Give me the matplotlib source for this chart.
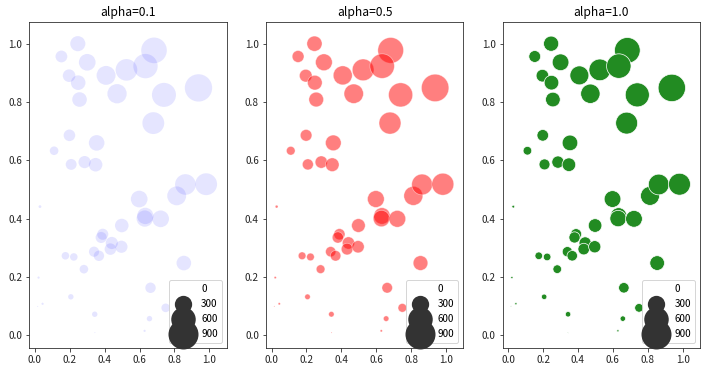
import numpy as np
import matplotlib
matplotlib.use('Agg')
import matplotlib.pyplot as plt
from matplotlib.lines import Line2D

plt.rcParams['font.family'] = ['Noto Sans CJK KR', 'DejaVu Sans']
plt.rcParams['font.size'] = 10

# point positions and size values
x = [0.246, 0.152, 0.300, 0.196, 0.248, 0.256, 0.408, 0.471, 0.525, 0.683,
     0.634, 0.740, 0.938, 0.679, 0.198, 0.110, 0.354, 0.208, 0.285, 0.348,
     0.029, 0.498, 0.598, 0.633, 0.630, 0.721, 0.813, 0.863, 0.982, 0.389,
     0.380, 0.441, 0.433, 0.496, 0.339, 0.367, 0.175, 0.223, 0.281, 0.021,
     0.206, 0.044, 0.016, 0.343, 0.344, 0.854, 0.663, 0.750, 0.657, 0.629]
y = [1.001, 0.957, 0.937, 0.891, 0.867, 0.809, 0.892, 0.829, 0.911, 0.978,
     0.924, 0.825, 0.849, 0.728, 0.686, 0.633, 0.660, 0.586, 0.594, 0.585,
     0.441, 0.376, 0.467, 0.409, 0.400, 0.399, 0.478, 0.517, 0.518, 0.346,
     0.335, 0.316, 0.295, 0.303, 0.286, 0.272, 0.272, 0.268, 0.226, 0.197,
     0.131, 0.107, 0.098, 0.071, 0.008, 0.247, 0.162, 0.093, 0.056, 0.014]
s = [230, 140, 280, 160, 215, 215, 360, 375, 470, 660,
     600, 580, 750, 480, 135, 75, 245, 120, 150, 185,
     8, 185, 280, 270, 270, 280, 360, 430, 480, 125,
     125, 150, 135, 150, 105, 110, 58, 58, 75, 5,
     30, 5, 1, 30, 1, 215, 110, 75, 30, 5]

alphas = [0.1, 0.5, 1.0]
colors = ['blue', 'red', 'forestgreen']
legend_levels = [0, 300, 600, 900]

fig = plt.figure(figsize=(705 / 72, 372 / 72), dpi=72)
lefts = [0.0416, 0.3773, 0.7130]

for left, a, c in zip(lefts, alphas, colors):
    ax = fig.add_axes([left, 0.0637, 0.280, 0.876])
    ax.scatter(x, y, s=s, color=c, alpha=a, edgecolor='white', linewidth=0.7)
    ax.set_xlim(-0.032, 1.10)
    ax.set_ylim(-0.046, 1.074)
    ax.set_xticks([0.0, 0.2, 0.4, 0.6, 0.8, 1.0])
    ax.set_yticks([0.0, 0.2, 0.4, 0.6, 0.8, 1.0])
    ax.set_title('alpha={}'.format(a))
    for sp in ax.spines.values():
        sp.set_color('.15')
    ax.tick_params(colors='.15')
    handles = [Line2D([], [], linestyle='', marker='o', color='.2', mew=0,
                      markersize=np.sqrt(v)) for v in legend_levels]
    ax.legend(handles, [str(v) for v in legend_levels], loc='lower right')

fig.savefig('out.png', dpi=72)
